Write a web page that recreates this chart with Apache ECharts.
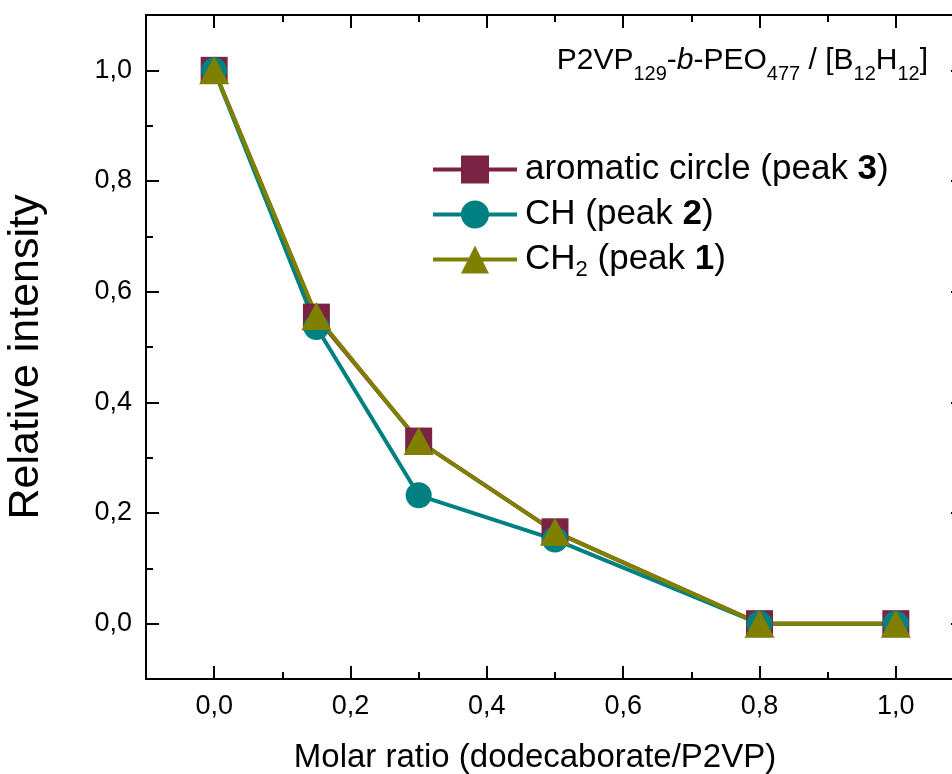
<!DOCTYPE html>
<html>
<head>
<meta charset="utf-8">
<script src="https://cdn.jsdelivr.net/npm/echarts@6/dist/echarts.min.js"></script>
<style>
  html, body { margin: 0; padding: 0; background: #fff; }
  #chart { width: 952px; height: 774px; }
</style>
</head>
<body>
<div id="chart"></div>
<script>
const molarRatio = [0, 0.15, 0.3, 0.5, 0.8, 1.0];
const aromatic = [1.0, 0.554, 0.33, 0.166, 0, 0];
const chPeak = [1.0, 0.536, 0.232, 0.152, 0, 0];
const ch2Peak = [1.0, 0.556, 0.33, 0.166, 0, 0];
const majorTicks = [0, 0.2, 0.4, 0.6, 0.8, 1.0];
const minorTicks = [0.1, 0.3, 0.5, 0.7, 0.9];

const FONT = 'Liberation Sans';
const chart = echarts.init(document.getElementById('chart'));

const pairs = ys => molarRatio.map((x, i) => [x, ys[i]]);
const fmt = v => v.toFixed(1).replace('.', ',');

// one axis per side for long ticks, one more for short ticks
function axis(pos, ticks, len, withLabels) {
  return {
    type: 'value',
    position: pos,
    min: -0.1,
    max: 1.1,
    axisLine: { show: true, onZero: false, lineStyle: { color: '#000', width: 2 } },
    axisTick: { show: true, inside: true, length: len, customValues: ticks, lineStyle: { color: '#000', width: 2 } },
    axisLabel: withLabels
      ? { show: true, customValues: ticks, formatter: fmt, color: '#000', fontFamily: FONT, fontSize: 27, margin: 14 }
      : { show: false },
    splitLine: { show: false }
  };
}

const xMain = axis('bottom', majorTicks, 13, true);
xMain.name = 'Molar ratio (dodecaborate/P2VP)';
xMain.nameLocation = 'middle';
xMain.nameGap = 62;
xMain.nameTextStyle = { fontFamily: FONT, fontSize: 33, color: '#000', padding: [0, 40, 0, 0] };

const yMain = axis('left', majorTicks, 13, true);
yMain.name = 'Relative intensity';
yMain.nameLocation = 'middle';
yMain.nameGap = 98;
yMain.nameTextStyle = { fontFamily: FONT, fontSize: 43, color: '#000', padding: [0, 20, 0, 0] };

const names = {
  'aromatic circle (peak 3)': 'aromatic circle (peak {b|3})',
  'CH (peak 2)': 'CH (peak {b|2})',
  'CH2 (peak 1)': 'CH{s|2} (peak {b|1})'
};

const option = {
  backgroundColor: '#fff',
  animation: false,
  grid: { left: 146, top: 15, width: 818, height: 664, outerBoundsMode: 'none' },
  xAxis: [
    xMain,
    axis('bottom', minorTicks, 7, false),
    axis('top', majorTicks, 13, false),
    axis('top', minorTicks, 7, false)
  ],
  yAxis: [
    yMain,
    axis('left', minorTicks, 7, false),
    axis('right', majorTicks, 13, false),
    axis('right', minorTicks, 7, false)
  ],
  legend: {
    orient: 'vertical',
    left: 431,
    top: 152,
    padding: 0,
    itemWidth: 84,
    itemHeight: 35,
    itemGap: 10,
    lineStyle: { width: 4 },
    formatter: n => names[n],
    textStyle: {
      fontFamily: FONT, fontSize: 35, color: '#000', padding: [0, 0, 0, 3],
      rich: {
        b: { fontFamily: FONT, fontSize: 35, fontWeight: 'bold', color: '#000' },
        s: { fontFamily: FONT, fontSize: 22, color: '#000', padding: [20, 0, 0, 0] }
      }
    }
  },
  graphic: [{
    type: 'text',
    right: 952 - 928,
    top: 46,
    style: {
      text: 'P2VP{s|129}-{i|b}-PEO{s|477} / [B{s|12}H{s|12}]',
      fill: '#000',
      font: '30px "Liberation Sans"',
      rich: {
        s: { fontFamily: FONT, fontSize: 20, fill: '#000', padding: [26, 0, 0, 0] },
        i: { fontFamily: FONT, fontSize: 30, fontStyle: 'italic', fill: '#000' }
      }
    }
  }],
  series: [
    {
      name: 'aromatic circle (peak 3)',
      type: 'line',
      data: pairs(aromatic),
      symbol: 'rect',
      symbolSize: 27,
      color: '#7b2342',
      lineStyle: { width: 4 }
    },
    {
      name: 'CH (peak 2)',
      type: 'line',
      data: pairs(chPeak),
      symbol: 'circle',
      symbolSize: 26,
      color: '#008080',
      lineStyle: { width: 4 }
    },
    {
      name: 'CH2 (peak 1)',
      type: 'line',
      data: pairs(ch2Peak),
      symbol: 'triangle',
      symbolSize: [30, 28],
      color: '#808000',
      lineStyle: { width: 4 }
    }
  ]
};

chart.setOption(option);
</script>
</body>
</html>
